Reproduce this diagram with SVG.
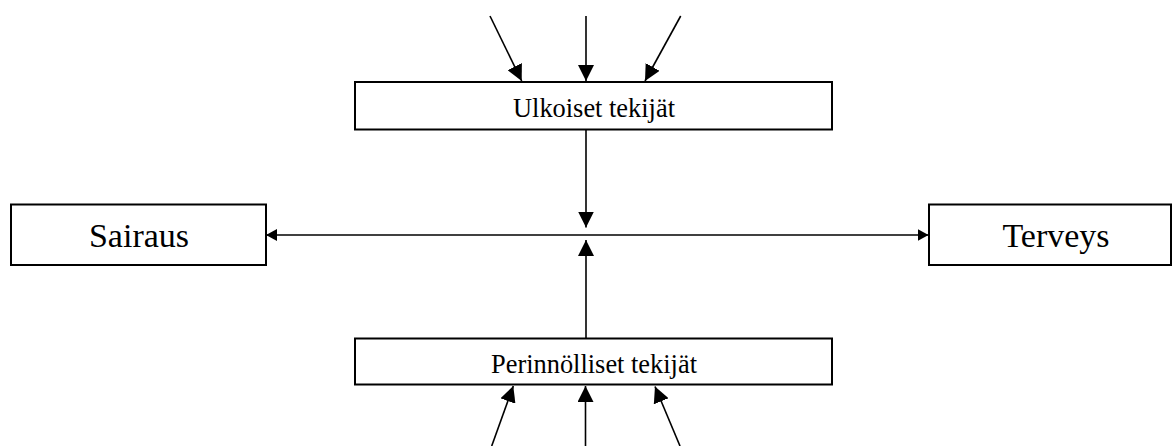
<svg xmlns="http://www.w3.org/2000/svg" width="1172" height="446" viewBox="0 0 1172 446">
  <style>
    .box { fill: #ffffff; stroke: #000000; stroke-width: 2; }
    .lbl { font-family: "Liberation Serif", "Times New Roman", serif; fill: #000000; text-anchor: middle; }
    .big { font-size: 34px; }
    .small { font-size: 26.4px; }
    .conn { stroke: #000000; stroke-width: 1.6; fill: none; }
    .in { marker-end: url(#headL); }
  </style>
  <defs>
    <marker id="headL" markerUnits="userSpaceOnUse" markerWidth="16" markerHeight="16" viewBox="0 0 16 16" refX="16" refY="8" orient="auto">
      <path d="M0,0 L16,8 L0,16 Z" fill="#000000"/>
    </marker>
    <marker id="headS" markerUnits="userSpaceOnUse" markerWidth="11" markerHeight="12" viewBox="0 0 11 12" refX="11" refY="6" orient="auto-start-reverse">
      <path d="M0,0 L11,6 L0,12 Z" fill="#000000"/>
    </marker>
  </defs>

  <g id="connectors">
    <!-- inputs into the external-factors box -->
    <line class="conn in" x1="490" y1="16" x2="521.7" y2="81"/>
    <line class="conn in" x1="586" y1="16" x2="586" y2="81"/>
    <line class="conn in" x1="680.7" y1="16" x2="645" y2="81"/>
    <!-- external and hereditary factors acting on the axis -->
    <line class="conn in" x1="586" y1="130" x2="586" y2="227.5"/>
    <line class="conn in" x1="586" y1="338" x2="586" y2="240"/>
    <!-- illness / health axis -->
    <line class="conn" x1="266" y1="235" x2="928.5" y2="235" marker-start="url(#headS)" marker-end="url(#headS)"/>
    <!-- inputs into the hereditary-factors box -->
    <line class="conn in" x1="491.7" y1="446" x2="513.3" y2="386"/>
    <line class="conn in" x1="585.5" y1="446" x2="585.5" y2="386"/>
    <line class="conn in" x1="680" y1="446" x2="655" y2="386.5"/>
  </g>

  <g id="ulkoiset">
    <rect class="box" x="355" y="82" width="477" height="47.5"/>
    <text class="lbl small" x="594" y="116.7">Ulkoiset tekijät</text>
  </g>

  <g id="sairaus">
    <rect class="box" x="11" y="204.5" width="255" height="60.5"/>
    <text class="lbl big" x="139" y="246.7">Sairaus</text>
  </g>

  <g id="terveys">
    <rect class="box" x="929" y="204.5" width="242" height="60.5"/>
    <text class="lbl big" x="1056" y="246.7">Terveys</text>
  </g>

  <g id="perinnolliset">
    <rect class="box" x="355" y="338.5" width="477" height="46"/>
    <text class="lbl small" x="594" y="372.7">Perinnölliset tekijät</text>
  </g>
</svg>
